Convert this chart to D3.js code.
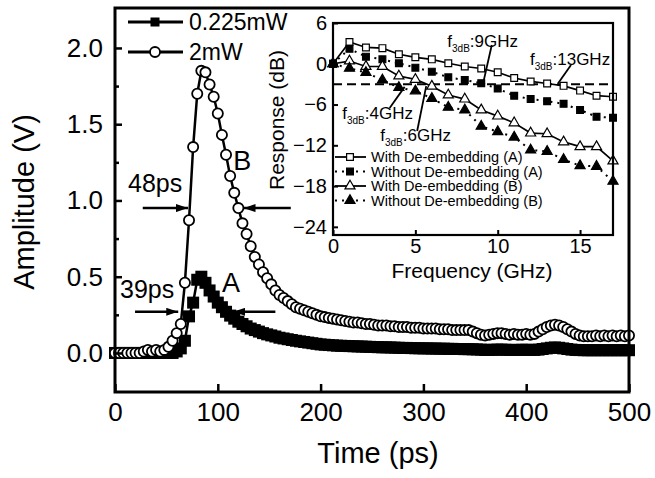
<!DOCTYPE html>
<html>
<head>
<meta charset="utf-8">
<script src="https://cdn.jsdelivr.net/npm/d3@7"></script>
<style>
body { margin: 0; background: #fff; }
svg text { fill: #000; }
</style>
</head>
<body>
<svg id="chart" width="655" height="478"></svg>
<script>
// pulse response, sampled every 4 ps
var timePs = [0,4,8,12,16,20,24,28,32,36,40,44,48,52,56,60,64,68,72,76,80,84,88,92,96,100,
	104,108,112,116,120,124,128,132,136,140,144,148,152,156,160,164,168,172,176,180,184,188,192,196,200,
	204,208,212,216,220,224,228,232,236,240,244,248,252,256,260,264,268,272,276,280,284,288,292,296,300,
	304,308,312,316,320,324,328,332,336,340,344,348,352,356,360,364,368,372,376,380,384,388,392,396,400,
	404,408,412,416,420,424,428,432,436,440,444,448,452,456,460,464,468,472,476,480,484,488,492,496,500];

var amp2mW = [0.00,0.00,0.00,0.00,0.00,0.00,0.00,0.01,0.02,0.01,0.02,0.01,0.02,0.04,0.08,0.13,0.19,0.46,0.87,1.35,1.70,1.85,1.84,1.76,1.68,1.57,
	1.43,1.30,1.16,1.05,0.95,0.85,0.78,0.70,0.63,0.58,0.53,0.49,0.45,0.41,0.38,0.36,0.34,0.32,0.30,0.29,0.28,0.27,0.26,0.25,0.24,
	0.235,0.23,0.225,0.22,0.215,0.21,0.205,0.20,0.20,0.195,0.19,0.19,0.185,0.18,0.18,0.18,0.175,0.175,0.17,0.17,0.17,0.165,0.165,0.165,0.16,
	0.16,0.16,0.16,0.155,0.155,0.155,0.15,0.15,0.15,0.15,0.15,0.14,0.13,0.12,0.115,0.12,0.125,0.13,0.13,0.125,0.12,0.125,0.12,0.12,0.125,
	0.12,0.125,0.14,0.155,0.17,0.18,0.185,0.18,0.17,0.155,0.14,0.125,0.115,0.11,0.11,0.11,0.115,0.11,0.115,0.11,0.115,0.11,0.115,0.11,0.115];

var amp0225mW = [0,0,0,0,0,0,0,0,0,0,0,0,0,0,0,0.01,0.03,0.08,0.24,0.33,0.48,0.50,0.46,0.41,0.37,0.33,
	0.30,0.27,0.245,0.225,0.205,0.19,0.175,0.16,0.15,0.14,0.13,0.122,0.115,0.108,0.10,0.095,0.09,0.085,0.08,0.076,0.072,0.068,0.064,0.06,0.056,
	0.054,0.052,0.05,0.048,0.047,0.046,0.045,0.044,0.043,0.042,0.041,0.04,0.039,0.038,0.037,0.037,0.036,0.035,0.034,0.033,0.033,0.032,0.031,0.031,0.030,
	0.030,0.029,0.029,0.028,0.028,0.027,0.027,0.026,0.026,0.025,0.025,0.024,0.023,0.022,0.020,0.020,0.021,0.022,0.022,0.021,0.020,0.020,0.020,0.021,0.021,
	0.020,0.020,0.022,0.026,0.030,0.034,0.036,0.034,0.030,0.026,0.022,0.020,0.019,0.018,0.018,0.018,0.018,0.018,0.018,0.018,0.018,0.018,0.018,0.018,0.018];

var timeTicks = [0,100,200,300,400,500];
var ampTicks = [0,0.5,1,1.5,2];
var ampMinor = [0.25,0.75,1.25,1.75];

// inset: frequency response
var freqGHz = [0,1,2,3,4,5,6,7,8,9,10,11,12,13,14,15,16,17];
var withDeembA = [0,3.2,2.4,2.3,1.4,0.95,0.65,0.07,-0.4,-0.7,-1.25,-2.1,-2.6,-2.9,-3.25,-3.95,-4.7,-4.85];
var withoutDeembA = [0,2.2,1.05,0.65,0.07,-0.57,-1.16,-2.0,-2.4,-2.85,-3.65,-4.7,-5.2,-5.5,-5.9,-6.8,-7.8,-7.95];
var withDeembB = [0,0.4,-0.4,-0.4,-1.8,-2.3,-3.3,-4.6,-5.2,-6.8,-7.7,-8.7,-10.2,-10.3,-11.5,-12.2,-12.2,-14.3];
var withoutDeembB = [0,-0.67,-1.3,-2.4,-3.5,-4.0,-5.1,-6.4,-6.8,-9.2,-10.0,-10.8,-12.7,-12.9,-14.1,-15.0,-15.1,-17.3];
var freqTicks = [0,5,10,15];
var dbTicks = [6,0,-6,-12,-18,-24];
var f3dbLabels = ["9GHz","13GHz","4GHz","6GHz"];

var FONT = "'Liberation Sans', Arial, Helvetica, sans-serif";
var svg = d3.select("#chart");

var x = d3.scaleLinear().domain([0, 500]).range([115, 629]);
var y = d3.scaleLinear().domain([-0.256, 2.262]).range([392, 8]);

var defs = svg.append("defs");
defs.append("marker")
	.attr("id", "arrow")
	.attr("viewBox", "0 0 12 8")
	.attr("refX", 12).attr("refY", 4)
	.attr("markerWidth", 12).attr("markerHeight", 8)
	.attr("markerUnits", "userSpaceOnUse")
	.attr("orient", "auto")
	.append("path").attr("d", "M0,0L12,4L0,8Z").attr("fill", "#000");

var pts2 = timePs.map(function(t, i) { return [t, amp2mW[i]] });
var pts0 = timePs.map(function(t, i) { return [t, amp0225mW[i]] });

var line = d3.line()
	.x(function(d) { return x(d[0]) })
	.y(function(d) { return y(d[1]) });

// 0.225mW first, 2mW drawn over it
svg.append("path").attr("d", line(pts0)).attr("fill", "none").attr("stroke", "#000").attr("stroke-width", 2.5);
svg.append("g").selectAll("rect")
	.data(pts0)
	.enter()
	.append("rect")
	.attr("x", function(d) { return x(d[0]) - 6 })
	.attr("y", function(d) { return y(d[1]) - 6 })
	.attr("width", 12).attr("height", 12)
	.attr("fill", "#000");

svg.append("path").attr("d", line(pts2)).attr("fill", "none").attr("stroke", "#000").attr("stroke-width", 2.5);
svg.append("g").selectAll("circle")
	.data(pts2)
	.enter()
	.append("circle")
	.attr("cx", function(d) { return x(d[0]) })
	.attr("cy", function(d) { return y(d[1]) })
	.attr("r", 5.1)
	.attr("fill", "#fff")
	.attr("stroke", "#000")
	.attr("stroke-width", 1.8);

// axes
var gx = svg.append("g").attr("transform", "translate(0,392)")
	.call(d3.axisBottom(x).tickValues(timeTicks).tickSize(-8).tickSizeOuter(0).tickPadding(11));
gx.select(".domain").remove();
gx.attr("font-family", FONT).attr("font-size", 26);
gx.selectAll("line").attr("stroke-width", 2.5);

var gy = svg.append("g").attr("transform", "translate(115,0)")
	.call(d3.axisLeft(y).tickValues(ampTicks).tickSize(-7).tickSizeOuter(0).tickPadding(12).tickFormat(d3.format(".1f")));
gy.select(".domain").remove();
gy.attr("font-family", FONT).attr("font-size", 26);
gy.selectAll("line").attr("stroke-width", 2.5);

var gy2 = svg.append("g").attr("transform", "translate(115,0)")
	.call(d3.axisLeft(y).tickValues(ampMinor).tickSize(-4).tickSizeOuter(0).tickFormat(""));
gy2.select(".domain").remove();
gy2.selectAll("line").attr("stroke-width", 2.5);

svg.append("rect")
	.attr("x", 115).attr("y", 8).attr("width", 514).attr("height", 384)
	.attr("fill", "none").attr("stroke", "#000").attr("stroke-width", 3);

svg.append("text")
	.attr("x", 378).attr("y", 463)
	.attr("text-anchor", "middle")
	.attr("font-family", FONT).attr("font-size", 29)
	.text("Time (ps)");

svg.append("text")
	.attr("transform", "translate(34,202) rotate(-90)")
	.attr("text-anchor", "middle")
	.attr("font-family", FONT).attr("font-size", 29)
	.text("Amplitude (V)");

// FWHM arrows and labels
var fwhm = [
	{label: "48ps", tx: 12.7, ty: 1.056, v: 0.95, l0: 27, l1: 71, r0: 171, r1: 125, name: "B", nx: 115, ny: 1.2},
	{label: "39ps", tx: 4.9, ty: 0.36, v: 0.27, l0: 19.5, l1: 61.5, r0: 156, r1: 115, name: "A", nx: 104, ny: 0.40}
];

fwhm.forEach(function(f) {
	svg.append("line")
		.attr("x1", x(f.l0)).attr("x2", x(f.l1)).attr("y1", y(f.v)).attr("y2", y(f.v))
		.attr("stroke", "#000").attr("stroke-width", 2.5).attr("marker-end", "url(#arrow)");
	svg.append("line")
		.attr("x1", x(f.r0)).attr("x2", x(f.r1)).attr("y1", y(f.v)).attr("y2", y(f.v))
		.attr("stroke", "#000").attr("stroke-width", 2.5).attr("marker-end", "url(#arrow)");
	svg.append("text")
		.attr("x", x(f.tx)).attr("y", y(f.ty))
		.attr("font-family", FONT).attr("font-size", 25)
		.text(f.label);
	svg.append("text")
		.attr("x", x(f.nx)).attr("y", y(f.ny))
		.attr("font-family", FONT).attr("font-size", 27)
		.text(f.name);
});

// main legend
var leg = svg.append("g").attr("font-family", FONT).attr("font-size", 23);
leg.append("line").attr("x1", 128).attr("x2", 183).attr("y1", 22).attr("y2", 22).attr("stroke", "#000").attr("stroke-width", 3);
leg.append("rect").attr("x", 150.5).attr("y", 17.5).attr("width", 9).attr("height", 9).attr("fill", "#000");
leg.append("text").attr("x", 189).attr("y", 22).attr("dy", "0.36em").text("0.225mW");
leg.append("line").attr("x1", 128).attr("x2", 183).attr("y1", 52).attr("y2", 52).attr("stroke", "#000").attr("stroke-width", 3);
leg.append("circle").attr("cx", 155).attr("cy", 52).attr("r", 5).attr("fill", "#fff").attr("stroke", "#000").attr("stroke-width", 1.8);
leg.append("text").attr("x", 189).attr("y", 52).attr("dy", "0.36em").text("2mW");

// ---------- inset ----------
var xi = d3.scaleLinear().domain([0, 17]).range([333, 613]);
var yi = d3.scaleLinear().domain([-25.2, 6]).range([235, 23]);

svg.append("rect")
	.attr("x", 333).attr("y", 23).attr("width", 280).attr("height", 212)
	.attr("fill", "#fff").attr("stroke", "none");

svg.append("line")
	.attr("x1", xi(0)).attr("x2", xi(17)).attr("y1", yi(-3)).attr("y2", yi(-3))
	.attr("stroke", "#000").attr("stroke-width", 2).attr("stroke-dasharray", "9,5");

var series = [
	{name: "With De-embedding (A)", vals: withDeembA, sym: d3.symbolSquare, size: 46, filled: false, dash: null},
	{name: "Without De-embedding (A)", vals: withoutDeembA, sym: d3.symbolSquare, size: 46, filled: true, dash: "2,5"},
	{name: "With De-embedding (B)", vals: withDeembB, sym: d3.symbolTriangle, size: 44, filled: false, dash: null},
	{name: "Without De-embedding (B)", vals: withoutDeembB, sym: d3.symbolTriangle, size: 44, filled: true, dash: "2,5"}
];

var lineI = d3.line()
	.x(function(d) { return xi(d[0]) })
	.y(function(d) { return yi(d[1]) });

series.forEach(function(s) {
	var pts = freqGHz.map(function(f, i) { return [f, s.vals[i]] });
	svg.append("path").attr("d", lineI(pts))
		.attr("fill", "none").attr("stroke", "#000")
		.attr("stroke-width", s.dash ? 2 : 1.7)
		.attr("stroke-dasharray", s.dash);
	svg.append("g").selectAll("path")
		.data(pts)
		.enter()
		.append("path")
		.attr("transform", function(d) { return "translate(" + xi(d[0]) + "," + yi(d[1]) + ")" })
		.attr("d", d3.symbol().type(s.sym).size(s.size))
		.attr("fill", s.filled ? "#000" : "#fff")
		.attr("stroke", "#000").attr("stroke-width", 1.2);
});

var gxi = svg.append("g").attr("transform", "translate(0,235)")
	.call(d3.axisBottom(xi).tickValues(freqTicks).tickSize(-5).tickSizeOuter(0).tickPadding(4));
gxi.select(".domain").remove();
gxi.attr("font-family", FONT).attr("font-size", 20);
gxi.selectAll("line").attr("stroke-width", 2);

var gyi = svg.append("g").attr("transform", "translate(333,0)")
	.call(d3.axisLeft(yi).tickValues(dbTicks).tickSize(-5).tickSizeOuter(0).tickPadding(6));
gyi.select(".domain").remove();
gyi.attr("font-family", FONT).attr("font-size", 20);
gyi.selectAll("line").attr("stroke-width", 2);

svg.append("rect")
	.attr("x", 333).attr("y", 23).attr("width", 280).attr("height", 212)
	.attr("fill", "none").attr("stroke", "#000").attr("stroke-width", 2.2);

svg.append("text")
	.attr("x", 472).attr("y", 278)
	.attr("text-anchor", "middle")
	.attr("font-family", FONT).attr("font-size", 21)
	.text("Frequency (GHz)");

svg.append("text")
	.attr("transform", "translate(284,120) rotate(-90)")
	.attr("text-anchor", "middle")
	.attr("font-family", FONT).attr("font-size", 21)
	.text("Response (dB)");

// f3dB call-outs: text anchor and pointer line in data units
var f3dbPos = [
	{tx: 6.94, ty: 2.47, x1: 9.64, y1: 2.77, x2: 9.13, y2: -2.7},
	{tx: 11.96, ty: -0.18, x1: 14.45, y1: -0.18, x2: 13.66, y2: -2.9},
	{tx: 0.56, ty: -8.1, x1: 3.44, y1: -6.5, x2: 4.35, y2: -3.4},
	{tx: 2.87, ty: -11.4, x1: 5.11, y1: -9.9, x2: 5.66, y2: -3.3}
];

f3dbPos.forEach(function(p, i) {
	svg.append("line")
		.attr("x1", xi(p.x1)).attr("y1", yi(p.y1)).attr("x2", xi(p.x2)).attr("y2", yi(p.y2))
		.attr("stroke", "#000").attr("stroke-width", 1.8);
	var t = svg.append("text")
		.attr("x", xi(p.tx)).attr("y", yi(p.ty))
		.attr("font-family", FONT).attr("font-size", 17);
	t.append("tspan").text("f");
	t.append("tspan").attr("font-size", 10).attr("dy", 5).text("3dB");
	t.append("tspan").attr("dy", -5).text(":" + f3dbLabels[i]);
});

// inset legend
var legRows = [157, 171.5, 186, 200.5];
var legI = svg.append("g").attr("font-family", FONT).attr("font-size", 14.5);
series.forEach(function(s, i) {
	var ry = legRows[i];
	legI.append("line")
		.attr("x1", 335).attr("x2", 366).attr("y1", ry).attr("y2", ry)
		.attr("stroke", "#000").attr("stroke-width", s.dash ? 2 : 1.8)
		.attr("stroke-dasharray", s.dash);
	legI.append("path")
		.attr("transform", "translate(350," + ry + ")")
		.attr("d", d3.symbol().type(s.sym).size(s.size))
		.attr("fill", s.filled ? "#000" : "#fff")
		.attr("stroke", "#000").attr("stroke-width", 1.2);
	legI.append("text")
		.attr("x", 371).attr("y", ry).attr("dy", "0.36em")
		.text(s.name);
});
</script>
</body>
</html>
